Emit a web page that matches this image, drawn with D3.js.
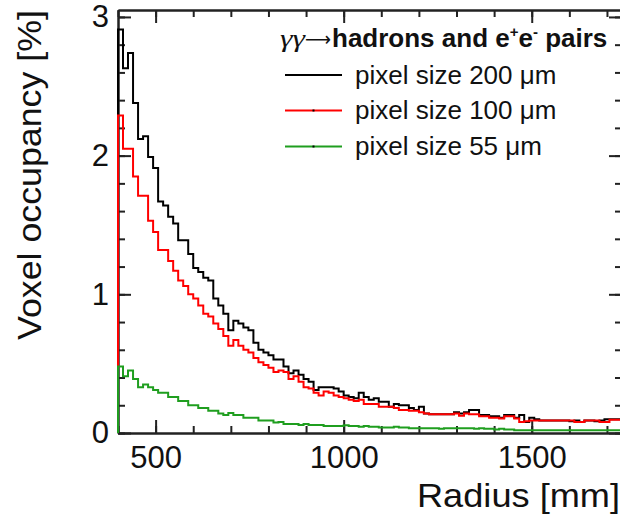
<!DOCTYPE html>
<html><head><meta charset="utf-8">
<script src="https://cdn.jsdelivr.net/npm/d3@7/dist/d3.min.js"></script>
<style>body{margin:0;background:#fff}svg{display:block}</style>
</head><body>
<svg id="c" width="620" height="515"></svg>
<script>
// ---- data ----
const binStart = 400;            // mm, first bin edge
const binWidth = 2000 / 150;     // mm
const pix200 = [2.91,2.63,2.74,2.38,2.12,2.14,1.99,1.91,1.67,1.64,
 1.56,1.51,1.39,1.39,1.29,1.19,1.16,1.12,1.10,0.97,
 0.92,0.86,0.74,0.81,0.79,0.76,0.74,0.65,0.60,0.58,
 0.56,0.53,0.53,0.48,0.43,0.45,0.42,0.39,0.37,0.31,
 0.33,0.33,0.33,0.32,0.30,0.27,0.26,0.25,0.29,0.26,
 0.24,0.25,0.225,0.225,0.19,0.21,0.20,0.20,0.18,0.165,
 0.19,0.14,0.135,0.135,0.135,0.135,0.135,0.15,0.14,0.15,
 0.165,0.165,0.13,0.13,0.12,0.12,0.11,0.13,0.13,0.11,
 0.13,0.08,0.11,0.10,0.09,0.09,0.09,0.09,0.09,0.09,
 0.085,0.09,0.08,0.09,0.09,0.085,0.09,0.10,0.10,0.10,0.10];
const pix100 = [2.29,2.05,2.05,1.85,1.71,1.71,1.53,1.45,1.32,1.32,
 1.24,1.17,1.10,1.06,1.00,0.97,0.92,0.86,0.84,0.79,
 0.75,0.70,0.63,0.67,0.63,0.60,0.58,0.54,0.51,0.49,
 0.47,0.44,0.45,0.44,0.39,0.41,0.37,0.33,0.32,0.29,
 0.27,0.30,0.29,0.27,0.26,0.25,0.24,0.23,0.24,0.21,
 0.21,0.21,0.19,0.19,0.19,0.18,0.165,0.165,0.16,0.16,
 0.15,0.14,0.135,0.135,0.135,0.135,0.135,0.14,0.125,0.14,
 0.135,0.135,0.12,0.12,0.11,0.11,0.105,0.12,0.12,0.105,
 0.08,0.085,0.09,0.09,0.09,0.09,0.09,0.09,0.09,0.09,
 0.09,0.08,0.08,0.09,0.09,0.09,0.08,0.08,0.095,0.095,0.095];
const pix55 = [0.48,0.41,0.45,0.39,0.33,0.35,0.33,0.31,0.29,0.29,
 0.26,0.26,0.23,0.23,0.20,0.20,0.18,0.18,0.16,0.16,
 0.14,0.13,0.145,0.13,0.13,0.11,0.11,0.11,0.09,0.09,
 0.09,0.075,0.08,0.065,0.065,0.065,0.058,0.065,0.058,0.058,
 0.058,0.05,0.05,0.05,0.05,0.055,0.05,0.05,0.045,0.05,
 0.045,0.045,0.04,0.04,0.04,0.045,0.04,0.04,0.035,0.035,
 0.035,0.035,0.035,0.035,0.03,0.035,0.035,0.035,0.035,0.035,
 0.035,0.03,0.035,0.03,0.03,0.025,0.03,0.025,0.025,0.02,
 0.02,0.02,0.02,0.02,0.02,0.02,0.02,0.02,0.02,0.02,
 0.02,0.02,0.02,0.02,0.02,0.02,0.02,0.02,0.02,0.02,0.02];
const seriesNames = ["pixel size 200 \u03bcm", "pixel size 100 \u03bcm", "pixel size 55 \u03bcm"];
const seriesColors = ["#000000", "#ff0000", "#1f9e1f"];
const xMajorTicks = [500, 1000, 1500];
const xMinorTicks = [400,500,600,700,800,900,1000,1100,1200,1300,1400,1500,1600,1700];
const yMajorTicks = [0, 1, 2, 3];
const yMinorTicks = [0,0.2,0.4,0.6,0.8,1,1.2,1.4,1.6,1.8,2,2.2,2.4,2.6,2.8,3];
const xTitle = "Radius [mm]";
const yTitle = "Voxel occupancy [%]";

// ---- chart ----
const svg = d3.select("#c");
const x = d3.scaleLinear().domain([400, 1740]).range([118, 622]);
const y = d3.scaleLinear().domain([0, 3.05]).range([433, 10]);
const axisColor = "#222";
const FONT = "'Liberation Sans', Arial, Helvetica, sans-serif";

function styleAxis(g) {
  g.select(".domain").attr("stroke", axisColor).attr("stroke-width", 2);
  g.selectAll(".tick line").attr("stroke", axisColor).attr("stroke-width", 2);
}

// bottom
svg.append("g").attr("transform", `translate(0,${y(0)})`)
  .call(d3.axisBottom(x).tickValues(xMinorTicks).tickSizeInner(-7).tickSizeOuter(0).tickFormat(""))
  .call(styleAxis);
svg.append("g").attr("transform", `translate(0,${y(0)})`)
  .call(d3.axisBottom(x).tickValues(xMajorTicks).tickSizeInner(-13).tickSizeOuter(0).tickPadding(13).tickFormat(d3.format("d")))
  .call(styleAxis)
  .call(g => g.selectAll("text").attr("font-family", FONT).attr("font-size", 31).attr("fill", "#111"));
// top
svg.append("g").attr("transform", `translate(0,${y(3.05)})`)
  .call(d3.axisTop(x).tickValues(xMinorTicks).tickSizeInner(-7).tickSizeOuter(0).tickFormat(""))
  .call(styleAxis);
svg.append("g").attr("transform", `translate(0,${y(3.05)})`)
  .call(d3.axisTop(x).tickValues(xMajorTicks).tickSizeInner(-13).tickSizeOuter(0).tickFormat(""))
  .call(styleAxis);
// left
svg.append("g").attr("transform", `translate(${x(400)},0)`)
  .call(d3.axisLeft(y).tickValues(yMinorTicks).tickSizeInner(-7).tickSizeOuter(0).tickFormat(""))
  .call(styleAxis);
svg.append("g").attr("transform", `translate(${x(400)},0)`)
  .call(d3.axisLeft(y).tickValues(yMajorTicks).tickSizeInner(-13).tickSizeOuter(0).tickPadding(9).tickFormat(d3.format("d")))
  .call(styleAxis)
  .call(g => g.selectAll("text").attr("font-family", FONT).attr("font-size", 31).attr("fill", "#111"));
// right
svg.append("g").attr("transform", `translate(${x(1740)},0)`)
  .call(d3.axisRight(y).tickValues(yMinorTicks).tickSizeInner(-7).tickSizeOuter(0).tickFormat(""))
  .call(styleAxis);
svg.append("g").attr("transform", `translate(${x(1740)},0)`)
  .call(d3.axisRight(y).tickValues(yMajorTicks).tickSizeInner(-13).tickSizeOuter(0).tickFormat(""))
  .call(styleAxis);

// clip
svg.append("clipPath").attr("id", "plotclip").append("rect")
  .attr("x", x(400) - 1.5).attr("y", y(3.05) - 1).attr("width", x(1740) - x(400) + 1.5).attr("height", y(0) - y(3.05) + 2);

const line = d3.line().x(d => x(d[0])).y(d => y(d[1])).curve(d3.curveStepAfter);
function histPoints(vals) {
  const pts = [[binStart, 0]];
  vals.forEach((v, i) => pts.push([binStart + i * binWidth, v]));
  pts.push([binStart + vals.length * binWidth, vals[vals.length - 1]]);
  return pts;
}
const hg = svg.append("g").attr("clip-path", "url(#plotclip)");
[pix200, pix100, pix55].forEach((vals, i) => {
  hg.append("path").attr("d", line(histPoints(vals)))
    .attr("fill", "none").attr("stroke", seriesColors[i]).attr("stroke-width", 2)
    .attr("stroke-linejoin", "miter");
});

// axis titles
svg.append("text").attr("x", 417).attr("y", 507)
  .attr("font-family", FONT).attr("font-size", 34).attr("fill", "#111")
  .attr("textLength", 203).attr("lengthAdjust", "spacingAndGlyphs")
  .text(xTitle);
svg.append("text").attr("transform", "translate(41,340) rotate(-90)")
  .attr("font-family", FONT).attr("font-size", 34).attr("fill", "#111")
  .attr("textLength", 330).attr("lengthAdjust", "spacingAndGlyphs")
  .text(yTitle);

// legend
const lg = svg.append("g");
lg.append("text").attr("x", 280).attr("y", 47)
  .attr("font-family", "'Liberation Serif', 'DejaVu Serif', serif").attr("font-size", 26)
  .attr("font-style", "italic").attr("fill", "#111")
  .attr("textLength", 25).attr("lengthAdjust", "spacingAndGlyphs")
  .text("\u03b3\u03b3");
lg.append("text").attr("x", 305).attr("y", 46)
  .attr("font-family", "'DejaVu Sans', sans-serif").attr("font-size", 20).attr("fill", "#111")
  .attr("textLength", 26).attr("lengthAdjust", "spacingAndGlyphs")
  .text("\u27f6");
lg.append("text").attr("x", 332).attr("y", 47)
  .attr("font-family", FONT).attr("font-size", 26).attr("font-weight", "bold").attr("fill", "#111")
  .call(t => {
    t.append("tspan").text("hadrons and e");
    t.append("tspan").attr("font-size", 15).attr("dy", -10).text("+");
    t.append("tspan").attr("dy", 10).text("e");
    t.append("tspan").attr("font-size", 15).attr("dy", -10).text("-");
    t.append("tspan").attr("dy", 10).text(" pairs");
  });
const rowsY = [75, 110.5, 146.5];
seriesNames.forEach((name, i) => {
  lg.append("line").attr("x1", 285).attr("x2", 342).attr("y1", rowsY[i]).attr("y2", rowsY[i])
    .attr("stroke", seriesColors[i]).attr("stroke-width", 2);
  if (i > 0) lg.append("line").attr("x1", 312.5).attr("x2", 314.5).attr("y1", rowsY[i]).attr("y2", rowsY[i])
    .attr("stroke", "#000").attr("stroke-width", 2);
  lg.append("text").attr("x", 355).attr("y", rowsY[i] + 8.5)
    .attr("font-family", FONT).attr("font-size", 26).attr("fill", "#111")
    .text(name);
});
</script>
</body></html>
